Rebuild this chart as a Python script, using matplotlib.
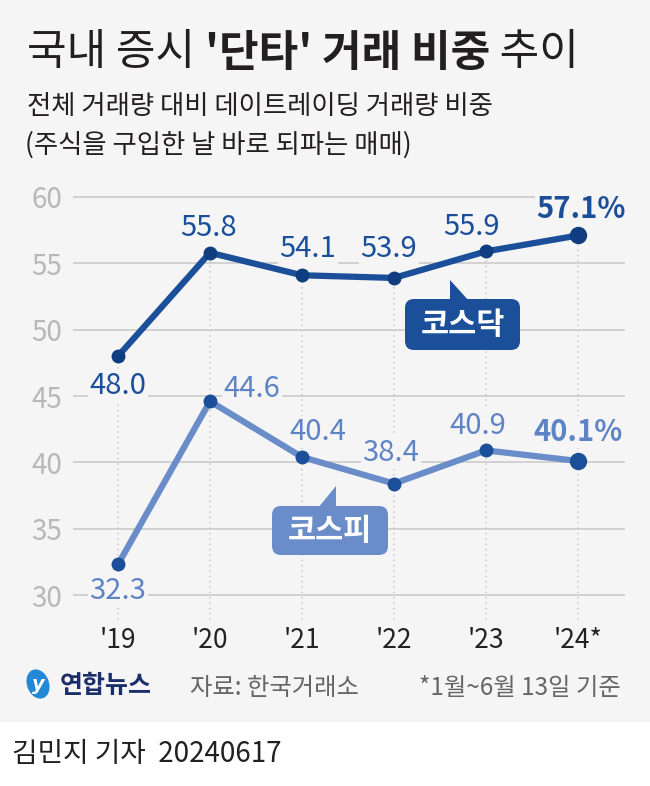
import numpy as np
import matplotlib
matplotlib.use("Agg")
import matplotlib.pyplot as plt
from matplotlib.patches import FancyBboxPatch, Polygon, Rectangle, Ellipse

plt.rcParams['font.family'] = ['Noto Sans CJK KR', 'DejaVu Sans']

# data
years = ["'19", "'20", "'21", "'22", "'23", "'24*"]
kosdaq = [48.0, 55.8, 54.1, 53.9, 55.9, 57.1]
kospi = [32.3, 44.6, 40.4, 38.4, 40.9, 40.1]
yticks = [30, 35, 40, 45, 50, 55, 60]

# label offsets in pixels (dx, dy)
kosdaq_off = [(0, -30), (-1, 25), (6, 26), (-5, 29), (-14, 24), (3, 26)]
kospi_off = [(0, -27), (42, 12), (16, 25), (-3, 31), (-8, 24), (0, 29)]

BG = '#f5f5f5'
C_DQ = '#1b4f9a'
C_DQ_M = '#0f3d80'
C_PI = '#6a8dca'
C_PI_T = '#5e84c6'

W, H = 650, 786
fig = plt.figure(figsize=(W / 100, H / 100), dpi=100)
fig.patch.set_facecolor('white')
fig.patches.append(Rectangle((0, 1 - 722 / H), 1, 722 / H, transform=fig.transFigure,
                             facecolor=BG, edgecolor='none', zorder=-10))

# main chart
ax = fig.add_axes([73 / W, 1 - 620 / H, (625 - 73) / W, (620 - 190) / H])
ax.set_facecolor('none')
x = np.arange(len(years))
ax.set_xlim(-0.489, 5.511)
ax.set_ylim(30 - 25 / 13.27, 60 + 7 / 13.27)
for s in ax.spines.values():
    s.set_visible(False)
ax.set_yticks(yticks)
ax.set_yticklabels([str(v) for v in yticks], color='#b8b8b8', fontsize=20, fontweight='light')
ax.set_xticks(x)
ax.set_xticklabels(years, color='#222222', fontsize=19, fontweight='light')
ax.tick_params(axis='y', length=0, pad=8)
ax.tick_params(axis='x', length=0, pad=5)
for v in yticks:
    ax.axhline(v, color='#cccccc', lw=1.2, zorder=0.5)

# dotted vertical guides
top = np.maximum(kosdaq, kospi)
ax.vlines(x, ax.get_ylim()[0], top, colors='#c8c8c8', linestyles=(0, (1, 2.5)), lw=1.1, zorder=1)

ax.plot(x, kosdaq, color=C_DQ, lw=4.5, zorder=3, solid_capstyle='round')
ax.plot(x[:-1], kosdaq[:-1], 'o', color=C_DQ_M, ms=9, zorder=4)
ax.plot(x[-1:], kosdaq[-1:], 'o', color=C_DQ_M, ms=11.5, zorder=4)
ax.plot(x, kospi, color=C_PI, lw=4.5, zorder=3, solid_capstyle='round')
ax.plot(x[:-1], kospi[:-1], 'o', color=C_DQ, ms=9, zorder=4)
ax.plot(x[-1:], kospi[-1:], 'o', color=C_DQ, ms=11.5, zorder=4)

box = dict(boxstyle='square,pad=0.05', fc=BG, ec='none')
for i, (v, off) in enumerate(zip(kosdaq, kosdaq_off)):
    last = i == len(kosdaq) - 1
    ax.annotate(f'{v:.1f}%' if last else f'{v:.1f}', (x[i], v), xytext=off,
                textcoords='offset pixels', ha='center', va='center',
                fontsize=21, color=C_DQ, fontweight='bold' if last else 'normal',
                bbox=box, zorder=2)
for i, (v, off) in enumerate(zip(kospi, kospi_off)):
    last = i == len(kospi) - 1
    ax.annotate(f'{v:.1f}%' if last else f'{v:.1f}', (x[i], v), xytext=off,
                textcoords='offset pixels', ha='center', va='center',
                fontsize=21, color=C_PI_T, fontweight='bold' if last else 'normal',
                bbox=box, zorder=2)

# overlay in pixel coords
ov = fig.add_axes([0, 0, 1, 1], zorder=5)
ov.set_xlim(0, W)
ov.set_ylim(H, 0)
ov.axis('off')
ov.patch.set_visible(False)

# callouts
ov.add_patch(FancyBboxPatch((405, 299), 115, 51, boxstyle='round,pad=0,rounding_size=9',
                            fc=C_DQ, ec='none'))
ov.add_patch(Polygon([(450, 280), (450, 301), (469, 301)], closed=True, fc=C_DQ, ec='none'))
ov.text(462.5, 325, '코스닥', ha='center', va='center', color='white', fontsize=22, fontweight='bold')
ov.add_patch(FancyBboxPatch((272, 506), 116, 49, boxstyle='round,pad=0,rounding_size=9',
                            fc=C_PI, ec='none'))
ov.add_patch(Polygon([(336, 486), (336, 508), (318, 508)], closed=True, fc=C_PI, ec='none'))
ov.text(330, 531, '코스피', ha='center', va='center', color='white', fontsize=22, fontweight='bold')

# title with mixed weights
fig.canvas.draw()
r = fig.canvas.get_renderer()
xpos = 27
for part, wt in [('국내 증시 ', 'light'), ("'단타' 거래 비중", 'bold'), (' 추이', 'light')]:
    t = ov.text(xpos, 53, part, ha='left', va='center', fontsize=31, fontweight=wt, color='#231f20')
    bb = t.get_window_extent(renderer=r)
    xpos += bb.width

ov.text(27, 107, '전체 거래량 대비 데이트레이딩 거래량 비중', ha='left', va='center',
        fontsize=19, color='#231f20')
ov.text(25, 145, '(주식을 구입한 날 바로 되파는 매매)', ha='left', va='center',
        fontsize=19, fontweight='light', color='#231f20')

# footer
ov.add_patch(Ellipse((38, 684), 22, 30, angle=-20, fc='#2389d6', ec='none'))
ov.text(38, 685, 'y', ha='center', va='center', color='white', fontsize=14,
        fontstyle='italic', fontweight='bold', family='DejaVu Sans')
ov.text(60, 686, '연합뉴스', ha='left', va='center', fontsize=18, fontweight='bold', color='#1a2e6a')
ov.text(190, 688, '자료: 한국거래소', ha='left', va='center', fontsize=17.5, color='#666666')
ov.text(621, 688, '*1월~6월 13일 기준', ha='right', va='center', fontsize=17.5, color='#666666')
ov.text(12, 754, '김민지 기자  20240617', ha='left', va='center', fontsize=20, color='#231f20')

fig.savefig('out.png', dpi=100, facecolor=fig.get_facecolor())
